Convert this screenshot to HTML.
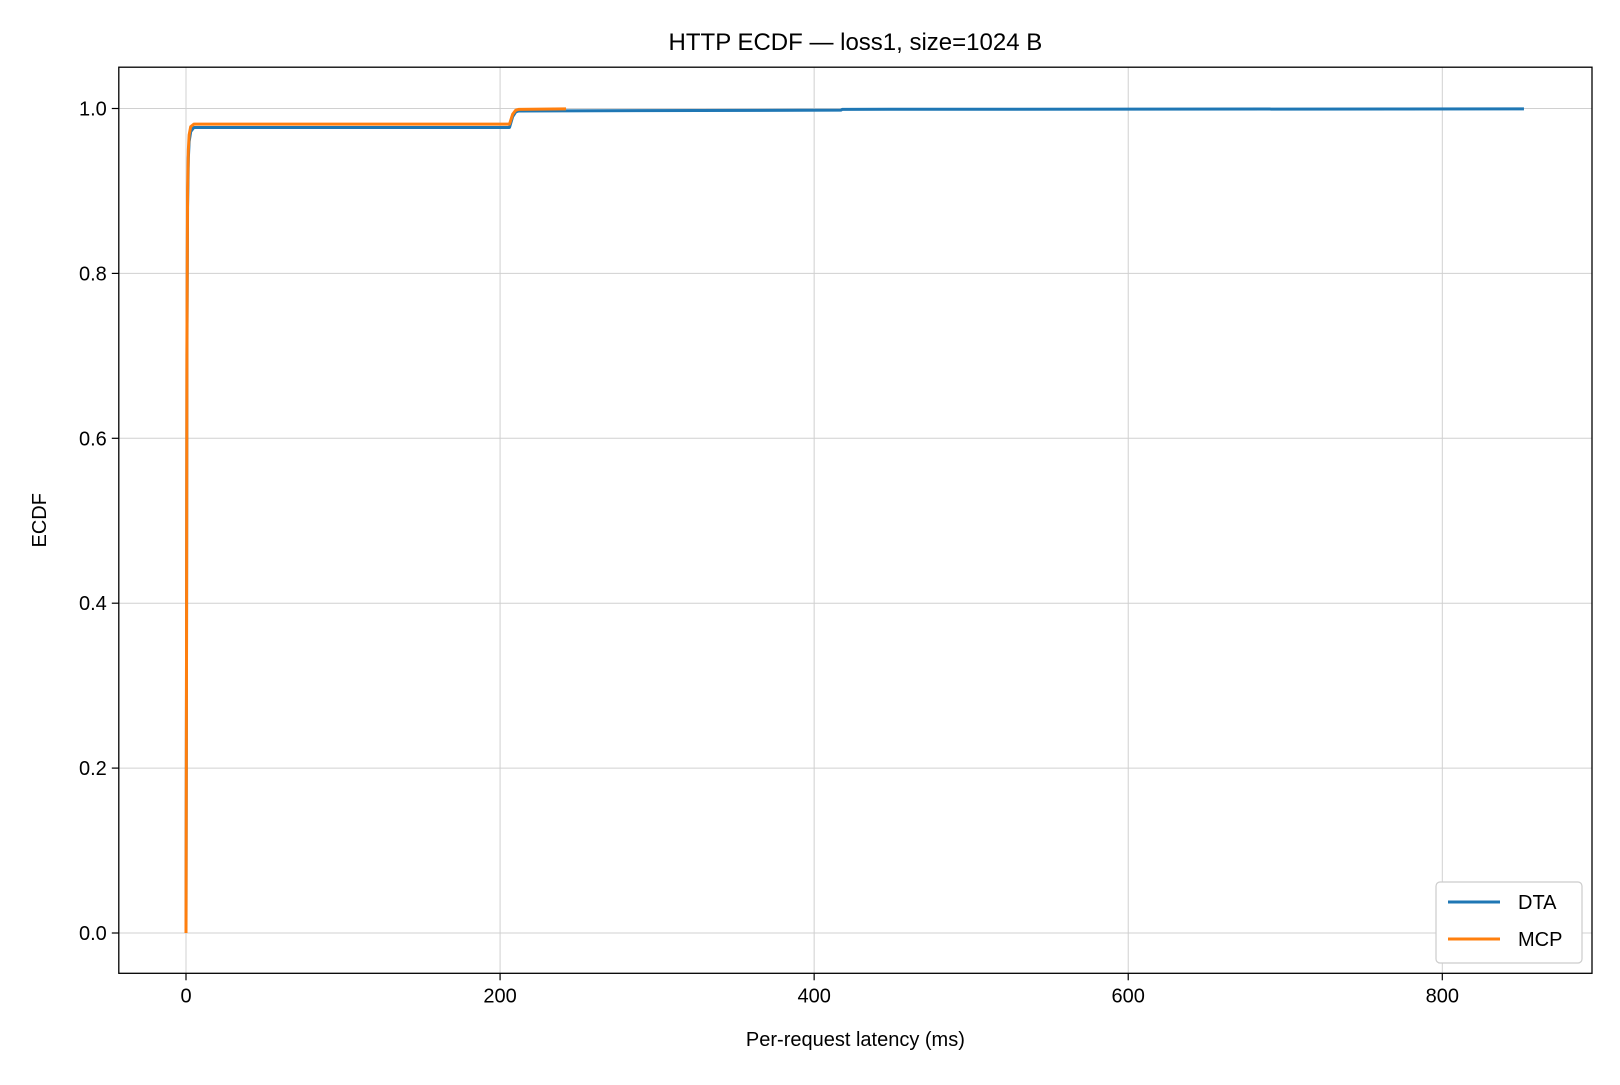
<!DOCTYPE html>
<html><head><meta charset="utf-8"><style>
body{margin:0;background:#fff;}
svg text{font-family:"Liberation Sans","DejaVu Sans",sans-serif;}
</style></head><body>
<svg id="chart" width="1620" height="1080" xmlns="http://www.w3.org/2000/svg">
<rect width="1620" height="1080" fill="#fff"/>
<g id="grid"></g><g id="series"></g><g id="axes"></g>
</svg>
<script>
const xTicks=[0,200,400,600,800];
const yTicks=[0.0,0.2,0.4,0.6,0.8,1.0];
const seriesNames=["DTA","MCP"];
const dtaX=[0,0.3,0.6,1,1.5,2,3,5,206,208,210,212,417,418,852];
const dtaY=[0,0.3,0.7,0.88,0.94,0.96,0.972,0.977,0.977,0.99,0.996,0.997,0.998,0.999,0.9995];
const mcpX=[0,0.3,0.6,1,1.5,2,3,5,206,208,210,212,242];
const mcpY=[0,0.3,0.72,0.9,0.95,0.968,0.978,0.981,0.981,0.993,0.998,0.999,0.9995];
const L=118.8,R=1592,T=67.2,B=973.3;
const xs=v=>186+v*(1442.3-186)/800;
const ys=v=>933-v*(933-108.5);
const NS="http://www.w3.org/2000/svg";
function mk(tag,attrs,parent){const e=document.createElementNS(NS,tag);for(const k in attrs)e.setAttribute(k,attrs[k]);parent.appendChild(e);return e;}
const svg=document.getElementById('chart'),grid=document.getElementById('grid'),ser=document.getElementById('series'),ax=document.getElementById('axes');
xTicks.forEach(t=>{const x=xs(t);
 const g=mk('line',{x1:x,x2:x,y1:T,y2:B,stroke:'#d0d0d0','stroke-width':1},grid);
 
 mk('line',{x1:x,x2:x,y1:B,y2:B+7,stroke:'#000','stroke-width':1.2},ax);
 const tx=mk('text',{x:x,y:B+29,'text-anchor':'middle','font-size':20},ax);tx.textContent=t;
 });
yTicks.forEach(t=>{const y=ys(t);
 const g=mk('line',{x1:L,x2:R,y1:y,y2:y,stroke:'#d0d0d0','stroke-width':1},grid);
 
 mk('line',{x1:L-7,x2:L,y1:y,y2:y,stroke:'#000','stroke-width':1.2},ax);
 const tx=mk('text',{x:L-12,y:y+7,'text-anchor':'end','font-size':20},ax);tx.textContent=t.toFixed(1);
 });
function line(X,Y,c,name){const d=X.map((v,i)=>(i?'L':'M')+xs(v).toFixed(2)+','+ys(Y[i]).toFixed(2)).join('');
 const p=mk('path',{d:d,fill:'none',stroke:c,'stroke-width':3,'stroke-linejoin':'round'},ser);
 }
line(dtaX,dtaY,'#1f77b4','dta-line');
line(mcpX,mcpY,'#ff7f0e','mcp-line');
const fr=mk('rect',{x:L,y:T,width:R-L,height:B-T,fill:'none',stroke:'#000','stroke-width':1.3},ax);

const title=mk('text',{x:(L+R)/2,y:50,'text-anchor':'middle','font-size':24},ax);title.textContent='HTTP ECDF — loss1, size=1024 B';

const xl=mk('text',{x:(L+R)/2,y:1046,'text-anchor':'middle','font-size':20},ax);xl.textContent='Per-request latency (ms)';

const yl=mk('text',{x:46,y:(T+B)/2,'text-anchor':'middle','font-size':20,transform:'rotate(-90 46 '+((T+B)/2)+')'},ax);yl.textContent='ECDF';

const lg=mk('g',{},ax);
mk('rect',{x:1436,y:882,width:146,height:81,rx:4,fill:'#fff',stroke:'#ccc','stroke-width':1.2},lg);
const cols=['#1f77b4','#ff7f0e'];
seriesNames.forEach((n,i)=>{const y=902+i*37;
 const e=mk('g',{},lg);
 mk('line',{x1:1448,x2:1500,y1:y,y2:y,stroke:cols[i],'stroke-width':3},e);
 const t=mk('text',{x:1518,y:y+7,'font-size':20},e);t.textContent=n;});
</script>
</body></html>
